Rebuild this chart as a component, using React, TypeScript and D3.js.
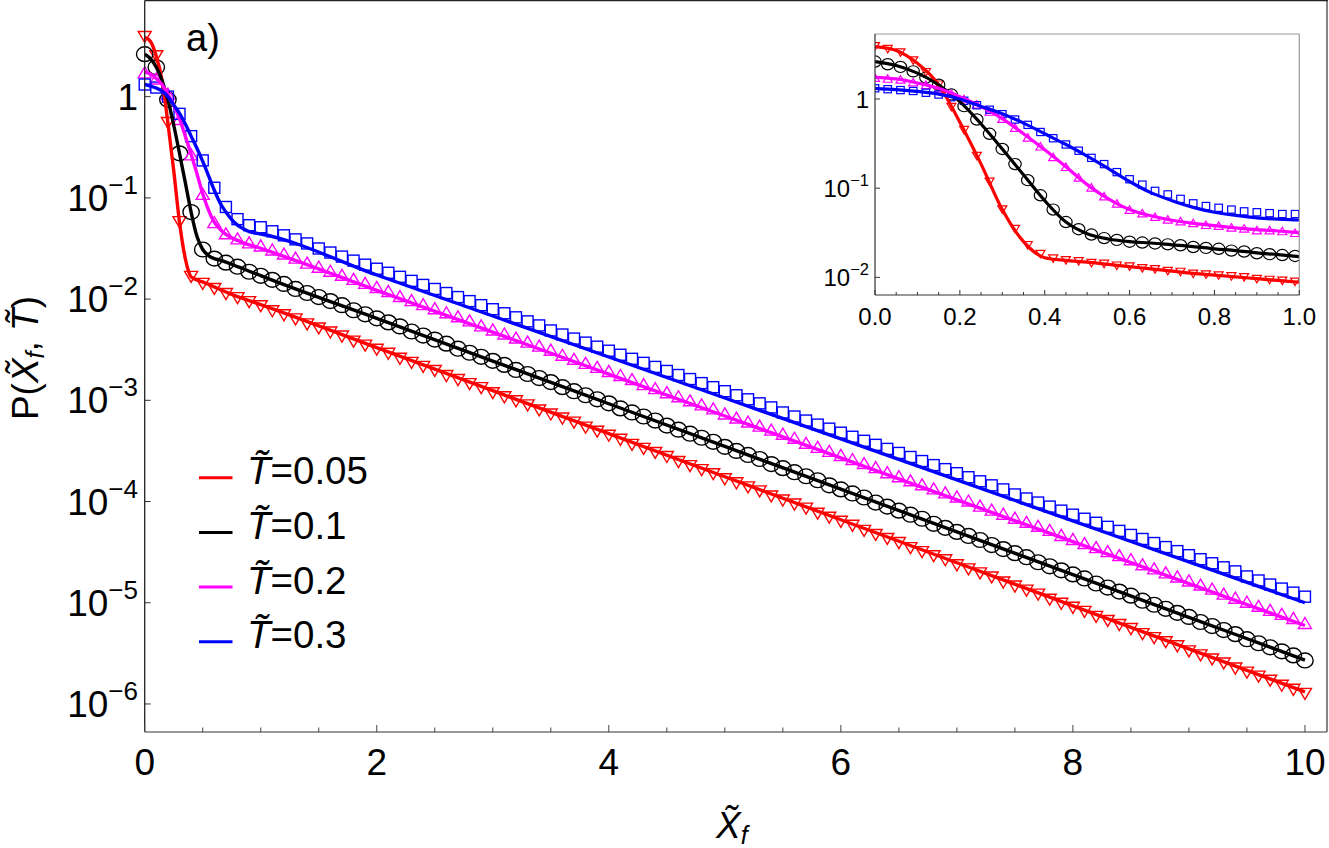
import React from "react";
import * as d3 from "d3";

// ---------- DATA (values are log10 P) ----------
const lineX = [0, 0.05, 0.1, 0.15, 0.2, 0.25, 0.3, 0.35, 0.4, 0.45, 0.5, 0.55, 0.6, 0.65, 0.7, 0.75, 0.8, 0.85, 0.9, 0.95, 1, 2, 3, 4, 5, 6, 7, 8, 9, 10];

const redLineLog = [0.587, 0.545, 0.40, 0.16, -0.26, -0.73, -1.24, -1.60, -1.78, -1.81, -1.83, -1.855, -1.88, -1.905, -1.93, -1.955, -1.975, -1.995, -2.015, -2.035, -2.055, -2.48, -2.905, -3.33, -3.755, -4.18, -4.605, -5.03, -5.455, -5.88];
const blackLineLog = [0.419, 0.375, 0.29, 0.16, -0.03, -0.28, -0.56, -0.85, -1.14, -1.38, -1.51, -1.57, -1.60, -1.615, -1.635, -1.655, -1.68, -1.70, -1.725, -1.745, -1.768, -2.19, -2.612, -3.034, -3.456, -3.878, -4.30, -4.722, -5.144, -5.566];
const magentaLineLog = [0.243, 0.225, 0.18, 0.12, 0.025, -0.085, -0.22, -0.39, -0.57, -0.76, -0.96, -1.12, -1.24, -1.31, -1.36, -1.395, -1.42, -1.445, -1.465, -1.48, -1.499, -1.913, -2.327, -2.741, -3.155, -3.569, -3.983, -4.397, -4.811, -5.225];
const blueLineLog = [0.12, 0.105, 0.085, 0.055, 0.0, -0.083, -0.165, -0.27, -0.39, -0.51, -0.64, -0.78, -0.925, -1.05, -1.14, -1.215, -1.27, -1.305, -1.333, -1.347, -1.357, -1.762, -2.167, -2.572, -2.977, -3.382, -3.787, -4.192, -4.597, -5.0];

// main-panel markers at x = 0, 0.1, ..., 10
const mainMarkX = d3.range(101).map((i) => i / 10);
const redMainLog = [
  0.59, 0.40, -0.26, -1.24, -1.78, -1.85, -1.90, -1.95, -1.99, -2.03,
  -2.07, -2.12, -2.16, -2.20, -2.25, -2.29, -2.33, -2.37, -2.42, -2.46,
  -2.50, -2.54, -2.59, -2.63, -2.67, -2.71, -2.76, -2.80, -2.84, -2.88,
  -2.93, -2.97, -3.01, -3.05, -3.10, -3.14, -3.18, -3.22, -3.27, -3.31,
  -3.35, -3.39, -3.44, -3.48, -3.52, -3.56, -3.61, -3.65, -3.69, -3.73,
  -3.78, -3.82, -3.86, -3.90, -3.95, -3.99, -4.03, -4.07, -4.12, -4.16,
  -4.20, -4.24, -4.29, -4.33, -4.37, -4.41, -4.46, -4.50, -4.54, -4.58,
  -4.63, -4.67, -4.71, -4.75, -4.80, -4.84, -4.88, -4.92, -4.97, -5.01,
  -5.05, -5.09, -5.14, -5.18, -5.22, -5.26, -5.31, -5.35, -5.39, -5.43,
  -5.48, -5.52, -5.56, -5.60, -5.65, -5.69, -5.73, -5.77, -5.82, -5.86,
  -5.90,
];
const blackMainLog = [
  0.42, 0.29, -0.03, -0.56, -1.14, -1.51, -1.60, -1.64, -1.68, -1.73,
  -1.77, -1.81, -1.85, -1.90, -1.94, -1.98, -2.02, -2.06, -2.11, -2.15,
  -2.19, -2.23, -2.27, -2.32, -2.36, -2.40, -2.44, -2.49, -2.53, -2.57,
  -2.61, -2.65, -2.70, -2.74, -2.78, -2.82, -2.87, -2.91, -2.95, -2.99,
  -3.03, -3.08, -3.12, -3.16, -3.20, -3.25, -3.29, -3.33, -3.37, -3.41,
  -3.46, -3.50, -3.54, -3.58, -3.63, -3.67, -3.71, -3.75, -3.79, -3.84,
  -3.88, -3.92, -3.96, -4.01, -4.05, -4.09, -4.13, -4.17, -4.22, -4.26,
  -4.30, -4.34, -4.38, -4.43, -4.47, -4.51, -4.55, -4.60, -4.64, -4.68,
  -4.72, -4.76, -4.81, -4.85, -4.89, -4.93, -4.98, -5.02, -5.06, -5.10,
  -5.14, -5.19, -5.23, -5.27, -5.31, -5.36, -5.40, -5.44, -5.48, -5.52,
  -5.57,
];
const magentaMainLog = [
  0.24, 0.18, 0.03, -0.22, -0.57, -0.96, -1.24, -1.35, -1.40, -1.44,
  -1.47, -1.51, -1.55, -1.59, -1.64, -1.68, -1.72, -1.76, -1.80, -1.84,
  -1.88, -1.92, -1.97, -2.01, -2.05, -2.09, -2.13, -2.17, -2.21, -2.26,
  -2.30, -2.34, -2.38, -2.42, -2.46, -2.50, -2.55, -2.59, -2.63, -2.67,
  -2.71, -2.75, -2.79, -2.84, -2.88, -2.92, -2.96, -3.00, -3.04, -3.08,
  -3.13, -3.17, -3.21, -3.25, -3.29, -3.33, -3.37, -3.42, -3.46, -3.50,
  -3.54, -3.58, -3.62, -3.66, -3.71, -3.75, -3.79, -3.83, -3.87, -3.91,
  -3.95, -3.99, -4.04, -4.08, -4.12, -4.16, -4.20, -4.24, -4.28, -4.33,
  -4.37, -4.41, -4.45, -4.49, -4.53, -4.57, -4.62, -4.66, -4.70, -4.74,
  -4.78, -4.82, -4.86, -4.91, -4.95, -4.99, -5.03, -5.07, -5.11, -5.15,
  -5.20,
];
const blueMainLog = [
  0.12, 0.09, 0.00, -0.17, -0.39, -0.63, -0.90, -1.09, -1.21, -1.27,
  -1.29, -1.33, -1.37, -1.41, -1.45, -1.50, -1.54, -1.58, -1.62, -1.66,
  -1.70, -1.74, -1.78, -1.82, -1.86, -1.90, -1.94, -1.98, -2.02, -2.06,
  -2.10, -2.14, -2.18, -2.22, -2.26, -2.31, -2.35, -2.39, -2.43, -2.47,
  -2.51, -2.55, -2.59, -2.63, -2.67, -2.71, -2.75, -2.79, -2.83, -2.87,
  -2.91, -2.95, -2.99, -3.03, -3.07, -3.12, -3.16, -3.20, -3.24, -3.28,
  -3.32, -3.36, -3.40, -3.44, -3.48, -3.52, -3.56, -3.60, -3.64, -3.68,
  -3.72, -3.76, -3.80, -3.84, -3.88, -3.93, -3.97, -4.01, -4.05, -4.09,
  -4.13, -4.17, -4.21, -4.25, -4.29, -4.33, -4.37, -4.41, -4.45, -4.49,
  -4.53, -4.57, -4.61, -4.65, -4.69, -4.74, -4.78, -4.82, -4.86, -4.90,
  -4.94,
];

// inset markers at x = 0, 0.03, ..., 0.99
const insetMarkX = d3.range(34).map((i) => i * 0.03);
const redInsetLog = [0.59, 0.56, 0.52, 0.43, 0.30, 0.16, -0.09, -0.35, -0.64, -0.93, -1.24, -1.46, -1.64, -1.74, -1.79, -1.81, -1.82, -1.84, -1.85, -1.87, -1.88, -1.90, -1.91, -1.93, -1.94, -1.96, -1.97, -1.98, -1.99, -2.00, -2.02, -2.03, -2.04, -2.05];
const blackInsetLog = [0.42, 0.39, 0.36, 0.31, 0.24, 0.16, 0.05, -0.08, -0.23, -0.39, -0.56, -0.73, -0.91, -1.08, -1.24, -1.38, -1.46, -1.52, -1.56, -1.58, -1.60, -1.61, -1.62, -1.63, -1.64, -1.66, -1.67, -1.68, -1.70, -1.71, -1.73, -1.74, -1.75, -1.76];
const magentaInsetLog = [0.24, 0.23, 0.22, 0.19, 0.16, 0.12, 0.06, 0.00, -0.06, -0.14, -0.22, -0.32, -0.43, -0.53, -0.65, -0.76, -0.88, -0.99, -1.09, -1.17, -1.24, -1.28, -1.32, -1.35, -1.37, -1.39, -1.41, -1.42, -1.44, -1.45, -1.47, -1.47, -1.48, -1.50];
const blueInsetLog = [0.12, 0.11, 0.10, 0.09, 0.07, 0.05, 0.02, -0.02, -0.07, -0.12, -0.17, -0.23, -0.29, -0.37, -0.44, -0.51, -0.58, -0.66, -0.73, -0.82, -0.90, -0.96, -1.03, -1.07, -1.12, -1.17, -1.20, -1.22, -1.24, -1.26, -1.27, -1.28, -1.29, -1.29];

const legendLabels = ["=0.05", "=0.1", "=0.2", "=0.3"];
const mainXTicks = [0, 2, 4, 6, 8, 10];
const mainYTickExp = [0, -1, -2, -3, -4, -5, -6];
const insetXTicks = [0, 0.2, 0.4, 0.6, 0.8, 1.0];
const insetYTickExp = [0, -1, -2];

const series = [
  { color: "#ff0000", shape: "down", line: redLineLog, main: redMainLog, inset: redInsetLog, label: legendLabels[0] },
  { color: "#000000", shape: "circle", line: blackLineLog, main: blackMainLog, inset: blackInsetLog, label: legendLabels[1] },
  { color: "#ff00ff", shape: "up", line: magentaLineLog, main: magentaMainLog, inset: magentaInsetLog, label: legendLabels[2] },
  { color: "#0000ff", shape: "square", line: blueLineLog, main: blueMainLog, inset: blueInsetLog, label: legendLabels[3] },
];

const FONT = "'Liberation Sans', Arial, Helvetica, sans-serif";
const W = 1329;
const H = 848;

// main geometry
const mL = 144.7, mR = 1327, mT = 0.5, mB = 732;
const xMain = d3.scaleLinear().domain([0, 10.19]).range([mL, mR]);
const yMain = d3.scaleLog().domain([Math.pow(10, -6.277), Math.pow(10, 0.955)]).range([mB, 0]);

// inset geometry
const iL = 875, iR = 1299.3, iT = 34, iB = 295;
const xIn = d3.scaleLinear().domain([0, 1]).range([iL, iR]);
const yIn = d3.scaleLog().domain([Math.pow(10, -2.198), Math.pow(10, 0.729)]).range([iB, iT]);

function Marker({ shape, x, y, color, big }: any) {
  const sw = big ? 1.4 : 1.2;
  if (shape === "circle") {
    const rx = big ? 8.2 : 6.2, ry = big ? 7.4 : 5.6;
    return <ellipse cx={x} cy={y} rx={rx} ry={ry} fill="none" stroke={color} strokeWidth={sw} />;
  }
  if (shape === "square") {
    const w = big ? 11 : 7.5, h = big ? 11 : 7.2;
    return <rect x={x - w / 2} y={y - h / 2} width={w} height={h} fill="none" stroke={color} strokeWidth={sw} />;
  }
  const w = big ? 13 : 9, h = big ? 11 : 7.5;
  const d = shape === "up"
    ? `M${x},${y - h / 2}L${x + w / 2},${y + h / 2}L${x - w / 2},${y + h / 2}Z`
    : `M${x},${y + h / 2}L${x + w / 2},${y - h / 2}L${x - w / 2},${y - h / 2}Z`;
  return <path d={d} fill="none" stroke={color} strokeWidth={sw} strokeLinejoin="miter" />;
}

function Pow10({ exp, x, y, size, supSize, supDy }: any) {
  if (exp === 0) {
    return <text x={x} y={y} fontSize={size} textAnchor="end">1</text>;
  }
  return (
    <text x={x} y={y} fontSize={size} textAnchor="end">
      <tspan>10</tspan>
      <tspan fontSize={supSize} dy={-supDy}>{"\u2212" + Math.abs(exp)}</tspan>
    </text>
  );
}

export default function App() {
  const mainLine = (vals: number[]) =>
    d3.line<number>()
      .x((_, i) => xMain(lineX[i]))
      .y((v) => yMain(Math.pow(10, v)))
      .curve(d3.curveMonotoneX)(vals) as string;
  const insetIdx = lineX.map((x, i) => i).filter((i) => lineX[i] <= 1);
  const insetLine = (vals: number[]) =>
    d3.line<number>()
      .x((i) => xIn(lineX[i]))
      .y((i) => yIn(Math.pow(10, vals[i])))
      .curve(d3.curveMonotoneX)(insetIdx) as string;

  const xMinor = d3.range(0, 10.01, 0.5).filter((v) => Math.abs(v / 2 - Math.round(v / 2)) > 1e-6);
  const inMinor = d3.range(0, 1.001, 0.05).filter((v) => Math.abs(v * 5 - Math.round(v * 5)) > 1e-6);

  return (
    <svg width={W} height={H} style={{ position: "absolute", left: 0, top: 0, background: "#fff" }} fontFamily={FONT}>
      <defs>
        <clipPath id="clipMain">
          <rect x={mL - 12} y={mT} width={mR - mL + 12} height={mB - mT} />
        </clipPath>
        <clipPath id="clipInset">
          <rect x={iL} y={iT} width={iR - iL} height={iB - iT} />
        </clipPath>
      </defs>
      <rect x={0} y={0} width={W} height={H} fill="#fff" />

      {/* main markers and lines */}
      <g clipPath="url(#clipMain)">
        {series.map((s, si) => (
          <g key={"mm" + si}>
            {s.main.map((v, i) => (
              <Marker key={i} shape={s.shape} x={xMain(mainMarkX[i])} y={yMain(Math.pow(10, v))} color={s.color} big />
            ))}
          </g>
        ))}
        {series.map((s, si) => (
          <path key={"ml" + si} d={mainLine(s.line)} fill="none" stroke={s.color} strokeWidth={3.4} strokeLinejoin="round" />
        ))}
      </g>

      {/* main frame */}
      <line x1={mL} x2={mL} y1={mT} y2={mB} stroke="#222" strokeWidth={1.3} />
      <line x1={mL} x2={mR} y1={mB} y2={mB} stroke="#777" strokeWidth={1.5} />
      <line x1={mL} x2={mR + 1} y1={mT} y2={mT} stroke="#222" strokeWidth={1.5} />
      <line x1={mR} x2={mR} y1={mT} y2={mB} stroke="#444" strokeWidth={1.3} />

      {/* main x ticks */}
      {mainXTicks.map((t) => (
        <g key={"xt" + t}>
          <line x1={xMain(t)} x2={xMain(t)} y1={mB} y2={mB - 7} stroke="#444" strokeWidth={1} />
          <text x={xMain(t)} y={775} fontSize={37} textAnchor="middle">{t}</text>
        </g>
      ))}
      {xMinor.map((t) => (
        <line key={"xm" + t} x1={xMain(t)} x2={xMain(t)} y1={mB} y2={mB - 4.5} stroke="#444" strokeWidth={1} />
      ))}
      {/* main y ticks */}
      {mainYTickExp.map((e) => {
        const y = yMain(Math.pow(10, e));
        return (
          <g key={"yt" + e}>
            <line x1={mL} x2={mL + 6} y1={y} y2={y} stroke="#333" strokeWidth={1} />
            <Pow10 exp={e} x={138} y={y + 13} size={37} supSize={26} supDy={17} />
          </g>
        );
      })}

      {/* axis labels */}
      <text x={716} y={838} fontSize={37}>
        <tspan fontStyle="italic">{"X\u0303"}</tspan>
        <tspan fontStyle="italic" fontSize={25} dy={6}>f</tspan>
      </text>
      <text transform="translate(38,358) rotate(-90)" fontSize={37} textAnchor="middle">
        <tspan>P(</tspan>
        <tspan fontStyle="italic">{"X\u0303"}</tspan>
        <tspan fontStyle="italic" fontSize={25} dy={6}>f</tspan>
        <tspan dy={-6}>, </tspan>
        <tspan fontStyle="italic">{"T\u0303"}</tspan>
        <tspan>)</tspan>
      </text>
      <text x={186} y={51} fontSize={38}>a)</text>

      {/* legend */}
      {series.map((s, i) => {
        const y = 477.7 + i * 54.7;
        return (
          <g key={"lg" + i}>
            <line x1={199} x2={232.5} y1={y} y2={y} stroke={s.color} strokeWidth={3} />
            <text x={247} y={y + 6.5} fontSize={38.5}>
              <tspan fontStyle="italic">{"T\u0303"}</tspan>
              <tspan>{s.label}</tspan>
            </text>
          </g>
        );
      })}

      {/* inset */}
      <rect x={iL} y={iT} width={iR - iL} height={iB - iT} fill="#fff" />
      <g clipPath="url(#clipInset)">
        {series.map((s, si) => (
          <g key={"im" + si}>
            {s.inset.map((v, i) => (
              <Marker key={i} shape={s.shape} x={xIn(insetMarkX[i])} y={yIn(Math.pow(10, v))} color={s.color} big={false} />
            ))}
          </g>
        ))}
        {series.map((s, si) => (
          <path key={"il" + si} d={insetLine(s.line)} fill="none" stroke={s.color} strokeWidth={3.2} strokeLinejoin="round" />
        ))}
      </g>
      <line x1={iL} x2={iR} y1={iT} y2={iT} stroke="#999" strokeWidth={1.2} />
      <line x1={iR} x2={iR} y1={iT} y2={iB} stroke="#999" strokeWidth={1.2} />
      <line x1={iL} x2={iL} y1={iT} y2={iB} stroke="#333" strokeWidth={1.2} />
      <line x1={iL} x2={iR} y1={iB} y2={iB} stroke="#333" strokeWidth={1.2} />
      {insetXTicks.map((t) => (
        <g key={"ixt" + t}>
          <line x1={xIn(t)} x2={xIn(t)} y1={iB} y2={iB - 5} stroke="#333" strokeWidth={1} />
          <text x={xIn(t)} y={325} fontSize={24} textAnchor="middle">{t.toFixed(1)}</text>
        </g>
      ))}
      {inMinor.map((t) => (
        <line key={"ixm" + t} x1={xIn(t)} x2={xIn(t)} y1={iB} y2={iB - 3} stroke="#333" strokeWidth={1} />
      ))}
      {insetYTickExp.map((e) => {
        const y = yIn(Math.pow(10, e));
        return (
          <g key={"iyt" + e}>
            <line x1={iL} x2={iL + 5} y1={y} y2={y} stroke="#333" strokeWidth={1} />
            <Pow10 exp={e} x={869} y={y + 8.5} size={24} supSize={16.5} supDy={11} />
          </g>
        );
      })}
    </svg>
  );
}
